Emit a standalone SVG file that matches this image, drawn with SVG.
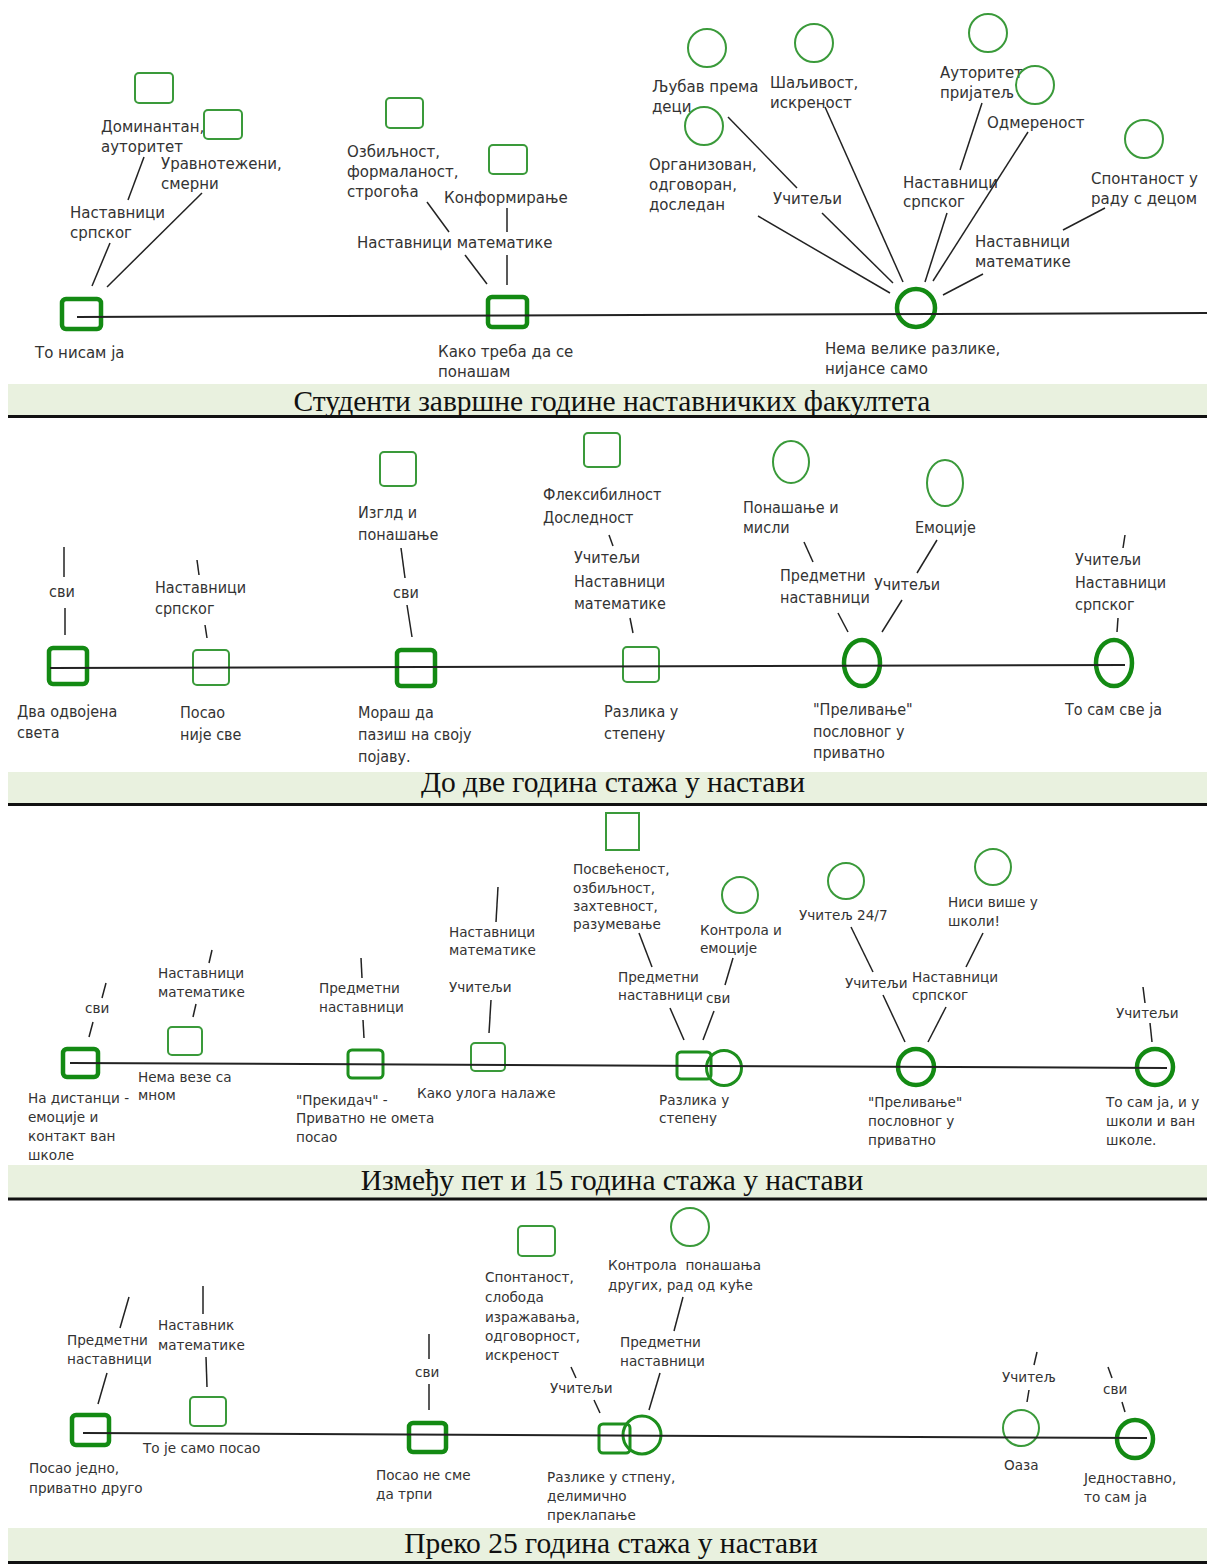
<svg xmlns="http://www.w3.org/2000/svg" width="1207" height="1564" viewBox="0 0 1207 1564">
<style>
  .bg{fill:#ffffff}
  .band{fill:#e9f1df}
  .rule{stroke:#111;stroke-width:3}
  .cap{font-family:"Liberation Serif","Times New Roman",serif;font-size:29.5px;fill:#111;text-anchor:middle}
  .t1{font-family:"DejaVu Sans",Verdana,sans-serif;font-size:15px;fill:#333}
  .t2{font-family:"DejaVu Sans Condensed","DejaVu Sans",sans-serif;font-size:16px;fill:#333}
  .t3{font-family:"DejaVu Sans",Verdana,sans-serif;font-size:13.6px;fill:#333}
  .thick{fill:none;stroke:#138a13;stroke-width:4.5}
  .mid{fill:none;stroke:#1d8f1d;stroke-width:3}
  .thin{fill:none;stroke:#3a9a3a;stroke-width:2}
  .axis{stroke:#222;stroke-width:2;fill:none}
  .ln{stroke:#222;stroke-width:1.5;fill:none}
</style>
<rect class="bg" x="0" y="0" width="1207" height="1564"/>

<!-- caption bands -->
<g id="captions">
  <rect class="band" x="8" y="384" width="1199" height="32"/>
  <line class="rule" x1="8" y1="416.5" x2="1207" y2="416.5"/>
  <text class="cap" x="612" y="411">Студенти завршне године наставничких факултета</text>
  <rect class="band" x="8" y="772" width="1199" height="32"/>
  <line class="rule" x1="8" y1="804.5" x2="1207" y2="804.5"/>
  <text class="cap" x="613" y="792">До две година стажа у настави</text>
  <rect class="band" x="8" y="1165" width="1199" height="33"/>
  <line class="rule" x1="8" y1="1199" x2="1207" y2="1199"/>
  <text class="cap" x="612" y="1190">Између пет и 15 година стажа у настави</text>
  <rect class="band" x="8" y="1528" width="1199" height="34"/>
  <line class="rule" x1="8" y1="1562.5" x2="1207" y2="1562.5"/>
  <text class="cap" x="611" y="1553">Преко 25 година стажа у настави</text>
</g>

<!-- ===== Panel 1 ===== -->
<g id="p1-n1"><rect class="thick" x="62" y="299" width="39" height="30" rx="4"/><text class="t1" x="35" y="358">То нисам ја</text></g>
<g id="p1-g1"><text class="t1"><tspan x="70" y="218">Наставници</tspan><tspan x="70" y="238">српског</tspan></text></g>
<g id="p1-a1"><rect class="thin" x="135" y="73" width="38" height="30" rx="4"/><text class="t1"><tspan x="101" y="132">Доминантан,</tspan><tspan x="101" y="152">ауторитет</tspan></text></g>
<g id="p1-a2"><rect class="thin" x="204" y="110" width="38" height="29" rx="4"/><text class="t1"><tspan x="161" y="169">Уравнотежени,</tspan><tspan x="161" y="189">смерни</tspan></text></g>

<g id="p1-n2"><rect class="thick" x="488" y="297" width="39" height="30" rx="4"/><text class="t1"><tspan x="438" y="357">Како треба да се</tspan><tspan x="438" y="377">понашам</tspan></text></g>
<g id="p1-g2"><text class="t1" x="357" y="248">Наставници математике</text></g>
<g id="p1-b1"><rect class="thin" x="386" y="98" width="37" height="30" rx="4"/><text class="t1"><tspan x="347" y="157">Озбиљност,</tspan><tspan x="347" y="177">формаланост,</tspan><tspan x="347" y="197">строгоћа</tspan></text></g>
<g id="p1-b2"><rect class="thin" x="489" y="145" width="38" height="29" rx="4"/><text class="t1" x="444" y="203">Конформирање</text></g>

<g id="p1-n3"><circle class="thick" cx="916" cy="308" r="19"/><text class="t1"><tspan x="825" y="354">Нема велике разлике,</tspan><tspan x="825" y="374">нијансе само</tspan></text></g>
<g id="p1-g3"><text class="t1" x="773" y="204">Учитељи</text></g>
<g id="p1-c1"><circle class="thin" cx="707" cy="48" r="19"/><text class="t1"><tspan x="652" y="92">Љубав према</tspan><tspan x="652" y="112">деци</tspan></text></g>
<g id="p1-c2"><circle class="thin" cx="814" cy="43" r="19"/><text class="t1"><tspan x="770" y="88">Шаљивост,</tspan><tspan x="770" y="108">искреност</tspan></text></g>
<g id="p1-c3"><circle class="thin" cx="704" cy="126" r="19"/><text class="t1"><tspan x="649" y="170">Организован,</tspan><tspan x="649" y="190">одговоран,</tspan><tspan x="649" y="210">доследан</tspan></text></g>
<g id="p1-g4"><text class="t1"><tspan x="903" y="188">Наставници</tspan><tspan x="903" y="207">српског</tspan></text></g>
<g id="p1-c4"><circle class="thin" cx="988" cy="33" r="19"/><text class="t1"><tspan x="940" y="78">Ауторитет</tspan><tspan x="940" y="98">пријатељ</tspan></text></g>
<g id="p1-c5"><circle class="thin" cx="1035" cy="85" r="19"/><text class="t1" x="987" y="128">Одмереност</text></g>
<g id="p1-g5"><text class="t1"><tspan x="975" y="247">Наставници</tspan><tspan x="975" y="267">математике</tspan></text></g>
<g id="p1-c6"><circle class="thin" cx="1144" cy="139" r="19"/><text class="t1"><tspan x="1091" y="184">Спонтаност у</tspan><tspan x="1091" y="204">раду с децом</tspan></text></g>

<!-- ===== Panel 2 ===== -->
<g id="p2-n1"><rect class="thick" x="49" y="648" width="38" height="36" rx="4"/><text class="t2"><tspan x="17" y="717">Два одвојена</tspan><tspan x="17" y="738">света</tspan></text></g>
<g id="p2-g1"><text class="t2" x="49" y="597">сви</text></g>
<g id="p2-n2"><rect class="thin" x="193" y="650" width="36" height="35" rx="4"/><text class="t2"><tspan x="180" y="718">Посао</tspan><tspan x="180" y="740">није све</tspan></text></g>
<g id="p2-g2"><text class="t2"><tspan x="155" y="593">Наставници</tspan><tspan x="155" y="614">српског</tspan></text></g>
<g id="p2-n3"><rect class="thick" x="397" y="650" width="38" height="36" rx="4"/><text class="t2"><tspan x="358" y="718">Мораш да</tspan><tspan x="358" y="740">пазиш на своју</tspan><tspan x="358" y="762">појаву.</tspan></text></g>
<g id="p2-g3"><text class="t2" x="393" y="598">сви</text></g>
<g id="p2-a1"><rect class="thin" x="380" y="452" width="36" height="34" rx="4"/><text class="t2"><tspan x="358" y="518">Изглд и</tspan><tspan x="358" y="540">понашање</tspan></text></g>
<g id="p2-n4"><rect class="thin" x="623" y="647" width="36" height="35" rx="4"/><text class="t2"><tspan x="604" y="717">Разлика у</tspan><tspan x="604" y="739">степену</tspan></text></g>
<g id="p2-g4"><text class="t2"><tspan x="574" y="563">Учитељи</tspan><tspan x="574" y="587">Наставници</tspan><tspan x="574" y="609">математике</tspan></text></g>
<g id="p2-a2"><rect class="thin" x="584" y="433" width="36" height="34" rx="4"/><text class="t2"><tspan x="543" y="500">Флексибилност</tspan><tspan x="543" y="523">Доследност</tspan></text></g>
<g id="p2-n5"><ellipse class="thick" cx="862" cy="663" rx="18" ry="23"/><text class="t2"><tspan x="813" y="715">"Преливање"</tspan><tspan x="813" y="737">пословног у</tspan><tspan x="813" y="758">приватно</tspan></text></g>
<g id="p2-g5"><text class="t2"><tspan x="780" y="581">Предметни</tspan><tspan x="780" y="603">наставници</tspan></text></g>
<g id="p2-a3"><ellipse class="thin" cx="791" cy="462" rx="18" ry="21"/><text class="t2"><tspan x="743" y="513">Понашање и</tspan><tspan x="743" y="533">мисли</tspan></text></g>
<g id="p2-g6"><text class="t2" x="874" y="590">Учитељи</text></g>
<g id="p2-a4"><ellipse class="thin" cx="945" cy="483" rx="18" ry="23"/><text class="t2" x="915" y="533">Емоције</text></g>
<g id="p2-n6"><ellipse class="thick" cx="1114" cy="663" rx="18" ry="23"/><text class="t2" x="1065" y="715">То сам све ја</text></g>
<g id="p2-g7"><text class="t2"><tspan x="1075" y="565">Учитељи</tspan><tspan x="1075" y="588">Наставници</tspan><tspan x="1075" y="610">српског</tspan></text></g>

<!-- ===== Panel 3 ===== -->
<g id="p3-n1"><rect class="thick" x="63" y="1049" width="35" height="28" rx="4"/><text class="t3"><tspan x="28" y="1103">На дистанци -</tspan><tspan x="28" y="1122">емоције и</tspan><tspan x="28" y="1141">контакт ван</tspan><tspan x="28" y="1160">школе</tspan></text></g>
<g id="p3-g1"><text class="t3" x="85" y="1013">сви</text></g>
<g id="p3-n2"><rect class="thin" x="168" y="1027" width="34" height="28" rx="4"/><text class="t3"><tspan x="138" y="1082">Нема везе са</tspan><tspan x="138" y="1100">мном</tspan></text></g>
<g id="p3-g2"><text class="t3"><tspan x="158" y="978">Наставници</tspan><tspan x="158" y="997">математике</tspan></text></g>
<g id="p3-n3"><rect class="mid" x="348" y="1050" width="35" height="28" rx="4"/><text class="t3"><tspan x="296" y="1105">"Прекидач" -</tspan><tspan x="296" y="1123">Приватно не омета</tspan><tspan x="296" y="1142">посао</tspan></text></g>
<g id="p3-g3"><text class="t3"><tspan x="319" y="993">Предметни</tspan><tspan x="319" y="1012">наставници</tspan></text></g>
<g id="p3-n4"><rect class="thin" x="471" y="1043" width="34" height="28" rx="4"/><text class="t3" x="417" y="1098">Како улога налаже</text></g>
<g id="p3-g4"><text class="t3" x="449" y="992">Учитељи</text><text class="t3"><tspan x="449" y="937">Наставници</tspan><tspan x="449" y="955">математике</tspan></text></g>
<g id="p3-n5"><rect class="mid" x="677" y="1052" width="34" height="27" rx="4"/><circle class="mid" cx="724" cy="1068" r="17.5"/><text class="t3"><tspan x="659" y="1105">Разлика у</tspan><tspan x="659" y="1123">степену</tspan></text></g>
<g id="p3-g5"><text class="t3"><tspan x="618" y="982">Предметни</tspan><tspan x="618" y="1000">наставници</tspan></text><text class="t3" x="706" y="1003">сви</text></g>
<g id="p3-a1"><rect class="thin" x="606" y="813" width="33" height="37"/><text class="t3"><tspan x="573" y="874">Посвећеност,</tspan><tspan x="573" y="893">озбиљност,</tspan><tspan x="573" y="911">захтевност,</tspan><tspan x="573" y="929">разумевање</tspan></text></g>
<g id="p3-a2"><circle class="thin" cx="740" cy="895" r="18"/><text class="t3"><tspan x="700" y="935">Контрола и</tspan><tspan x="700" y="953">емоције</tspan></text></g>
<g id="p3-n6"><circle class="thick" cx="916" cy="1067" r="18"/><text class="t3"><tspan x="868" y="1107">"Преливање"</tspan><tspan x="868" y="1126">пословног у</tspan><tspan x="868" y="1145">приватно</tspan></text></g>
<g id="p3-g6"><text class="t3" x="845" y="988">Учитељи</text><text class="t3"><tspan x="912" y="982">Наставници</tspan><tspan x="912" y="1000">српског</tspan></text></g>
<g id="p3-a3"><circle class="thin" cx="846" cy="881" r="18"/><text class="t3" x="799" y="920">Учитељ 24/7</text></g>
<g id="p3-a4"><circle class="thin" cx="993" cy="867" r="18"/><text class="t3"><tspan x="948" y="907">Ниси више у</tspan><tspan x="948" y="926">школи!</tspan></text></g>
<g id="p3-n7"><circle class="thick" cx="1155" cy="1067" r="18"/><text class="t3"><tspan x="1106" y="1107">То сам ја, и у</tspan><tspan x="1106" y="1126">школи и ван</tspan><tspan x="1106" y="1145">школе.</tspan></text></g>
<g id="p3-g7"><text class="t3" x="1116" y="1018">Учитељи</text></g>

<!-- ===== Panel 4 ===== -->
<g id="p4-n1"><rect class="thick" x="72" y="1415" width="37" height="30" rx="4"/><text class="t3"><tspan x="29" y="1473">Посао једно,</tspan><tspan x="29" y="1493">приватно друго</tspan></text></g>
<g id="p4-g1"><text class="t3"><tspan x="67" y="1345">Предметни</tspan><tspan x="67" y="1364">наставници</tspan></text></g>
<g id="p4-n2"><rect class="thin" x="190" y="1397" width="36" height="29" rx="4"/><text class="t3" x="143" y="1453">То је само посао</text></g>
<g id="p4-g2"><text class="t3"><tspan x="158" y="1330">Наставник</tspan><tspan x="158" y="1350">математике</tspan></text></g>
<g id="p4-n3"><rect class="thick" x="409" y="1423" width="37" height="29" rx="4"/><text class="t3"><tspan x="376" y="1480">Посао не сме</tspan><tspan x="376" y="1499">да трпи</tspan></text></g>
<g id="p4-g3"><text class="t3" x="415" y="1377">сви</text></g>
<g id="p4-n4"><rect class="mid" x="599" y="1424" width="31" height="29" rx="4"/><circle class="mid" cx="642" cy="1435" r="19"/><text class="t3"><tspan x="547" y="1482">Разлике у стпену,</tspan><tspan x="547" y="1501">делимично</tspan><tspan x="547" y="1520">преклапање</tspan></text></g>
<g id="p4-g4"><text class="t3" x="550" y="1393">Учитељи</text><text class="t3"><tspan x="620" y="1347">Предметни</tspan><tspan x="620" y="1366">наставници</tspan></text></g>
<g id="p4-a1"><rect class="thin" x="518" y="1226" width="37" height="30" rx="4"/><text class="t3"><tspan x="485" y="1282">Спонтаност,</tspan><tspan x="485" y="1302">слобода</tspan><tspan x="485" y="1322">изражавања,</tspan><tspan x="485" y="1341">одговорност,</tspan><tspan x="485" y="1360">искреност</tspan></text></g>
<g id="p4-a2"><circle class="thin" cx="690" cy="1227" r="19"/><text class="t3" xml:space="preserve"><tspan x="608" y="1270">Контрола  понашања</tspan><tspan x="608" y="1290">других, рад од куће</tspan></text></g>
<g id="p4-n5"><circle class="thin" cx="1021" cy="1428" r="18"/><text class="t3" x="1004" y="1470">Оаза</text></g>
<g id="p4-g5"><text class="t3" x="1002" y="1382">Учитељ</text></g>
<g id="p4-n6"><ellipse class="thick" cx="1135" cy="1439" rx="18" ry="19"/><text class="t3"><tspan x="1084" y="1483">Једноставно,</tspan><tspan x="1084" y="1502">то сам ја</tspan></text></g>
<g id="p4-g6"><text class="t3" x="1103" y="1394">сви</text></g>

<!-- connectors and timelines -->
<g id="connectors">
  <line class="axis" x1="77" y1="317" x2="1207" y2="313"/>
  <line class="axis" x1="50" y1="668" x2="1125" y2="665"/>
  <line class="axis" x1="70" y1="1063" x2="1167" y2="1068"/>
  <line class="axis" x1="83" y1="1433" x2="1147" y2="1438"/>

  <line class="ln" x1="92" y1="286" x2="110" y2="243"/>
  <line class="ln" x1="128" y1="200" x2="144" y2="157"/>
  <line class="ln" x1="107" y1="287" x2="202" y2="193"/>
  <line class="ln" x1="487" y1="284" x2="465" y2="255"/>
  <line class="ln" x1="507" y1="285" x2="507" y2="255"/>
  <line class="ln" x1="449" y1="232" x2="427" y2="202"/>
  <line class="ln" x1="507" y1="232" x2="507" y2="208"/>
  <line class="ln" x1="758" y1="216" x2="890" y2="293"/>
  <line class="ln" x1="822" y1="213" x2="893" y2="283"/>
  <line class="ln" x1="728" y1="117" x2="797" y2="188"/>
  <line class="ln" x1="825" y1="107" x2="903" y2="282"/>
  <line class="ln" x1="947" y1="213" x2="925" y2="282"/>
  <line class="ln" x1="960" y1="170" x2="982" y2="103"/>
  <line class="ln" x1="1028" y1="132" x2="933" y2="281"/>
  <line class="ln" x1="983" y1="274" x2="943" y2="295"/>
  <line class="ln" x1="1105" y1="208" x2="1063" y2="230"/>

  <line class="ln" x1="64" y1="547" x2="64" y2="577"/>
  <line class="ln" x1="65" y1="608" x2="65" y2="635"/>
  <line class="ln" x1="197" y1="560" x2="199" y2="575"/>
  <line class="ln" x1="205" y1="625" x2="207" y2="638"/>
  <line class="ln" x1="401" y1="548" x2="405" y2="578"/>
  <line class="ln" x1="407" y1="605" x2="412" y2="637"/>
  <line class="ln" x1="609" y1="535" x2="613" y2="546"/>
  <line class="ln" x1="630" y1="618" x2="633" y2="633"/>
  <line class="ln" x1="838" y1="613" x2="848" y2="632"/>
  <line class="ln" x1="804" y1="542" x2="813" y2="562"/>
  <line class="ln" x1="882" y1="632" x2="902" y2="600"/>
  <line class="ln" x1="917" y1="573" x2="937" y2="540"/>
  <line class="ln" x1="1125" y1="535" x2="1123" y2="548"/>
  <line class="ln" x1="1118" y1="618" x2="1117" y2="632"/>

  <line class="ln" x1="106" y1="983" x2="102" y2="998"/>
  <line class="ln" x1="93" y1="1022" x2="89" y2="1037"/>
  <line class="ln" x1="212" y1="950" x2="209" y2="963"/>
  <line class="ln" x1="196" y1="1004" x2="193" y2="1017"/>
  <line class="ln" x1="361" y1="958" x2="362" y2="978"/>
  <line class="ln" x1="363" y1="1020" x2="364" y2="1038"/>
  <line class="ln" x1="491" y1="1000" x2="489" y2="1033"/>
  <line class="ln" x1="498" y1="887" x2="496" y2="922"/>
  <line class="ln" x1="684" y1="1040" x2="670" y2="1008"/>
  <line class="ln" x1="703" y1="1040" x2="714" y2="1011"/>
  <line class="ln" x1="652" y1="967" x2="639" y2="933"/>
  <line class="ln" x1="725" y1="985" x2="733" y2="958"/>
  <line class="ln" x1="905" y1="1042" x2="883" y2="995"/>
  <line class="ln" x1="928" y1="1042" x2="946" y2="1007"/>
  <line class="ln" x1="873" y1="972" x2="851" y2="927"/>
  <line class="ln" x1="966" y1="967" x2="983" y2="933"/>
  <line class="ln" x1="1143" y1="987" x2="1145" y2="1003"/>
  <line class="ln" x1="1150" y1="1023" x2="1152" y2="1042"/>

  <line class="ln" x1="129" y1="1297" x2="120" y2="1328"/>
  <line class="ln" x1="107" y1="1373" x2="98" y2="1404"/>
  <line class="ln" x1="203" y1="1286" x2="203" y2="1314"/>
  <line class="ln" x1="206" y1="1357" x2="207" y2="1387"/>
  <line class="ln" x1="429" y1="1334" x2="429" y2="1359"/>
  <line class="ln" x1="429" y1="1384" x2="429" y2="1410"/>
  <line class="ln" x1="600" y1="1413" x2="594" y2="1400"/>
  <line class="ln" x1="576" y1="1378" x2="571" y2="1367"/>
  <line class="ln" x1="649" y1="1410" x2="660" y2="1373"/>
  <line class="ln" x1="674" y1="1331" x2="683" y2="1297"/>
  <line class="ln" x1="1037" y1="1352" x2="1034" y2="1365"/>
  <line class="ln" x1="1029" y1="1390" x2="1027" y2="1402"/>
  <line class="ln" x1="1108" y1="1367" x2="1112" y2="1378"/>
  <line class="ln" x1="1122" y1="1402" x2="1125" y2="1412"/>
</g>
</svg>
